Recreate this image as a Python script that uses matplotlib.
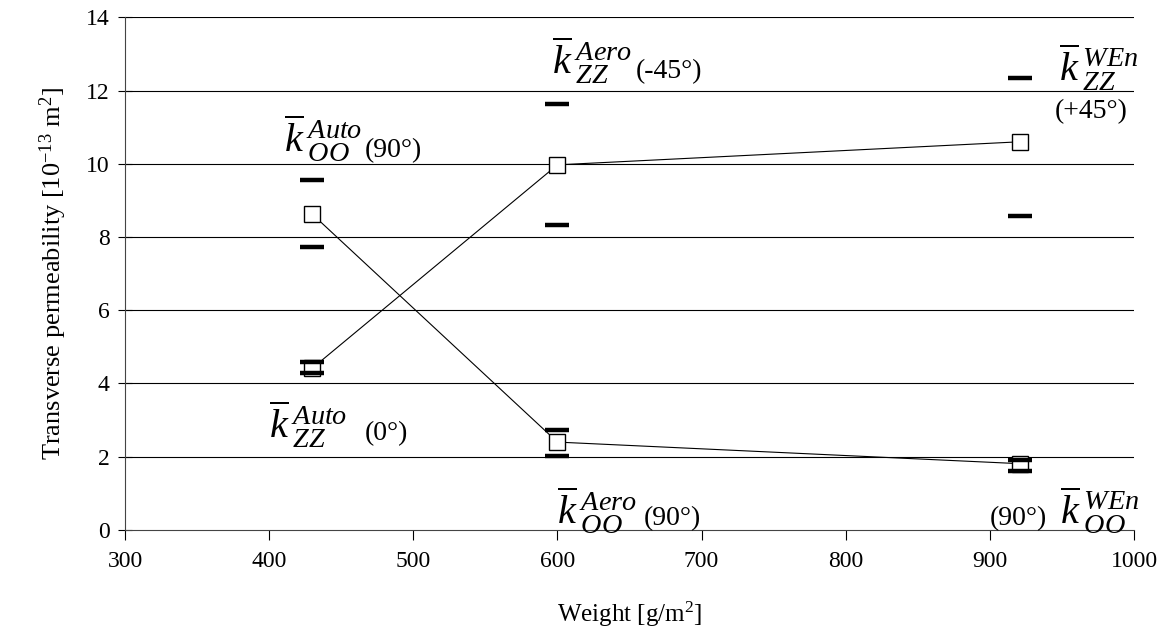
import numpy as np
import matplotlib
matplotlib.use("Agg")
import matplotlib.pyplot as plt

plt.rcParams['font.family'] = ['Liberation Serif', 'DejaVu Serif']
plt.rcParams['mathtext.fontset'] = 'custom'
plt.rcParams['mathtext.rm'] = 'Liberation Serif'
plt.rcParams['mathtext.it'] = 'Liberation Serif:italic'

# Daten
weight = [430, 600, 921]
k_oo = [8.62, 2.40, 1.81]          # (90°) Auto / Aero / WEn
k_oo_lo = [7.73, 2.02, 1.60]
k_oo_hi = [9.56, 2.73, 1.92]
k_zz = [4.42, 9.97, 10.60]         # (0°) Auto, (-45°) Aero, (+45°) WEn
k_zz_lo = [4.30, 8.32, 8.57]
k_zz_hi = [4.58, 11.62, 12.34]

# Beschriftungen: (x, y, symbol, x, y, kat)
labels = [
    (410, 10.3, r'$\overline{k}_{\;OO}^{\;Auto}$', 466, 10.18, '(90°)'),
    (596, 12.45, r'$\overline{k}_{\;ZZ}^{\;Aero}$', 654, 12.34, '(-45°)'),
    (948, 12.25, r'$\overline{k}_{\;ZZ}^{\;WEn}$', 945, 11.25, '(+45°)'),
    (400, 2.5, r'$\overline{k}_{\;ZZ}^{\;Auto}$', 466, 2.46, '(0°)'),
    (600, 0.16, r'$\overline{k}_{\;OO}^{\;Aero}$', 660, 0.14, '(90°)'),
    (949, 0.16, r'$\overline{k}_{\;OO}^{\;WEn}$', 900, 0.14, '(90°)'),
]

fig = plt.figure(figsize=(11.75, 6.39), dpi=100)
ax = fig.add_axes([0.1064, 0.1706, 0.8587, 0.8024])

for y in range(2, 16, 2):
    ax.axhline(y, color='black', lw=0.8, zorder=0)

ax.plot(weight, k_oo, color='black', lw=0.8, marker='s', ms=12,
        mfc='white', mec='black', mew=1.0, zorder=3)
ax.plot(weight, k_zz, color='black', lw=0.8, marker='s', ms=12,
        mfc='white', mec='black', mew=1.0, zorder=3)

for lo, hi in [(k_oo_lo, k_oo_hi), (k_zz_lo, k_zz_hi)]:
    ax.plot(weight, lo, ls='none', marker='_', ms=17, mew=3.2, color='black', zorder=4)
    ax.plot(weight, hi, ls='none', marker='_', ms=17, mew=3.2, color='black', zorder=4)

for kx, ky, sym, ax_, ay, ang in labels:
    ax.text(kx, ky, sym, fontsize=29, ha='left', va='baseline')
    ax.text(ax_, ay, ang, fontsize=20, ha='left', va='baseline')

ax.set_xlim(300, 1000)
ax.set_ylim(0, 14)
ax.set_xticks(np.arange(300, 1001, 100))
ax.set_yticks(np.arange(0, 15, 2))
ax.tick_params(axis='x', direction='out', length=7, labelsize=17, pad=8)
ax.tick_params(axis='y', direction='inout', length=10, labelsize=17, pad=6)
ax.spines['top'].set_visible(False)
ax.spines['right'].set_visible(False)
ax.spines['left'].set_color('#444444')
ax.spines['bottom'].set_color('#444444')

ax.set_xlabel(r'Weight [g/m$^2$]', fontsize=18, labelpad=20)
ax.set_ylabel(r'Transverse permeability [10$^{-13}$ m$^2$]', fontsize=19, labelpad=12)

plt.savefig('out.png', dpi=100)
